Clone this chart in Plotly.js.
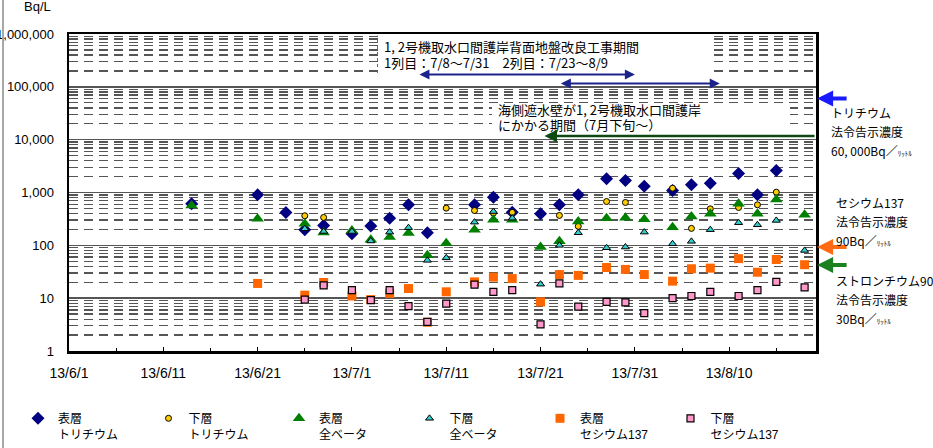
<!DOCTYPE html>
<html><head><meta charset="utf-8">
<script src="https://cdn.plot.ly/plotly-3.0.1.min.js"></script>
<style>html,body{margin:0;padding:0;background:#fff}#chart{width:933px;height:448px}</style>
</head><body><div id="chart"></div>
<script>
// ---- data ----
const dates = ['2013-06-14','2013-06-21','2013-06-24','2013-06-26','2013-06-28','2013-07-01','2013-07-03','2013-07-05','2013-07-07','2013-07-09','2013-07-11','2013-07-14','2013-07-16','2013-07-18','2013-07-21','2013-07-23','2013-07-25','2013-07-28','2013-07-30','2013-08-01','2013-08-04','2013-08-06','2013-08-08','2013-08-11','2013-08-13','2013-08-15','2013-08-18'];
const surfaceTritium = [612, 905, 420, 198, 238, 166, 231, 327, 585, 173, null, 585, 813, 424, 395, 585, 905, 1820, 1683, 1314, 1094, 1397, 1500, 2300, 905, 2600, null];
const lowerTritium   = [null, null, null, 363, 337, null, null, null, null, null, 506, 456, 408, 420, null, 368, 229, 675, 648, null, 1206, 209, 491, 520, 585, 1014, null];
const surfaceBeta    = [570, 320, null, 257, 174, 191, 128, 144, 171, 65, 110, 198, 305, 305, 93, 119, 283, 327, 332, 313, 221, 352, 396, 612, 396, 738, 378];
const lowerBeta      = [null, null, null, 206, 183, 183, 121, 178, 216, 52, 58, 275, 436, 327, 18.4, 100, 173, 90, 93, 178, 107, 119, 198, 268, 245, 296, 80];
const surfaceCs137   = [null, 19, null, 11.4, 19.8, 11, 9.4, 12.3, 15.2, 3.5, 13.2, 20.3, 25, 23.5, 8.5, 28, 27, 38, 35, 28, 21, 36, 37, 56, 31, 54, 43];
const lowerCs137     = [null, null, null, 9.4, 17.4, 14.2, 9.2, 14.2, 7.1, 3.57, 7.9, 18, 13.2, 14.2, 3.2, 19, 6.9, 8.5, 8.3, 5.2, 10, 11, 13.2, 11, 14.2, 20.3, 16];
const seriesNames = ['表層<br>トリチウム','下層<br>トリチウム','表層<br>全ベータ','下層<br>全ベータ','表層<br>セシウム137','下層<br>セシウム137'];
const yTickValues = [1, 10, 100, 1000, 10000, 100000, 1000000];
const yTickLabels = ['1', '10', '100', '1,000', '10,000', '100,000', '1,000,000'];
const xRange = ['2013-06-01 00:00', '2013-08-19 05:00'];
const works = {row1: ['2013-07-08', '2013-07-31'], row2: ['2013-07-23', '2013-08-09'], seaWall: '2013-07-21 10:00'};
const limits = {tritium: 60000, cs137: 90, sr90: 30};

// ---- layout helpers ----
const W = 933, H = 448, M = {l: 69, r: 117, t: 34, b: 97, autoexpand: false};
const PW = W - M.l - M.r, PH = H - M.t - M.b;
const px = x => (x - M.l) / PW;
const py = y => (H - M.b - y) / PH;
const LAT = 'Liberation Sans, Arial, "Noto Sans CJK JP", sans-serif';
const JP = '"Noto Sans CJK JP", sans-serif';

const minorY = [];
for (let e = 0; e < 6; e++) for (let k = 2; k <= 9; k++) minorY.push(k * Math.pow(10, e));

const styles = [
  {symbol: 'diamond', color: '#000080', size: 10, line: {width: 0}},
  {symbol: 'circle', color: '#ffcc00', size: 6, line: {width: 1, color: '#000'}},
  {symbol: 'triangle-up', color: '#008000', size: 11, line: {width: 0}},
  {symbol: 'triangle-up', color: '#33cccc', size: 7, line: {width: 1, color: '#000'}},
  {symbol: 'square', color: '#ff6600', size: 9, line: {width: 0}},
  {symbol: 'square', color: '#ff99cc', size: 7, line: {width: 1.2, color: '#000'}}
];
const values = [surfaceTritium, lowerTritium, surfaceBeta, lowerBeta, surfaceCs137, lowerCs137];
const traces = values.map((v, i) => ({
  type: 'scatter', mode: 'markers', x: dates, y: v, name: seriesNames[i],
  marker: styles[i], cliponaxis: false
}));

const note = (x, y, text, size) => ({xref: 'paper', yref: 'paper', x: px(x), y: py(y), xanchor: 'left', yanchor: 'middle',
  text: text, showarrow: false, font: {family: JP, size: size, color: '#000'}});
const whiteBox = (x0, y0, x1, y1) => ({xref: 'paper', yref: 'paper', x: px(x0), y: py(y0), xanchor: 'left', yanchor: 'top',
  text: ' ', showarrow: false, width: x1 - x0, height: y1 - y0, bgcolor: '#fff', borderpad: 0, borderwidth: 0});

const annotations = [
  {xref: 'paper', yref: 'paper', x: px(37), y: py(6), text: 'Bq/L', showarrow: false,
   font: {family: LAT, size: 13, color: '#000'}, xanchor: 'center', yanchor: 'middle'},
  whiteBox(378, 35.5, 712, 73),
  whiteBox(492, 103, 790, 130),
  note(382, 47, '1, 2号機取水口間護岸背面地盤改良工事期間', 13),
  note(382, 62, '1列目：7/8～7/31　2列目：7/23～8/9', 13),
  note(496, 110, '海側遮水壁が1, 2号機取水口間護岸', 13),
  note(496, 124.5, 'にかかる期間（7月下旬～）', 13),
  // construction period arrows
  {xref: 'x', yref: 'paper', x: works.row1[1], y: py(74.5), axref: 'x', ayref: 'pixel', ax: works.row1[0], ay: 0,
   text: '', showarrow: true, arrowhead: 2, arrowside: 'end+start', arrowsize: 1, arrowwidth: 2, arrowcolor: '#1c248c', standoff: 0, startstandoff: 0},
  {xref: 'x', yref: 'paper', x: works.row2[1], y: py(83.5), axref: 'x', ayref: 'pixel', ax: works.row2[0], ay: 0,
   text: '', showarrow: true, arrowhead: 2, arrowside: 'end+start', arrowsize: 1, arrowwidth: 2, arrowcolor: '#1c248c', standoff: 0, startstandoff: 0},
  {xref: 'x', yref: 'paper', x: works.seaWall, y: py(136), axref: 'x', ayref: 'pixel', ax: xRange[1], ay: 0,
   text: '', showarrow: true, arrowhead: 2, arrowsize: 1, arrowwidth: 2.5, arrowcolor: '#0d4a12', standoff: 0},
  // limit arrows on the right
  {xref: 'paper', yref: 'y', x: 1.0015, y: Math.log10(limits.tritium), axref: 'pixel', ayref: 'pixel', ax: 31, ay: 0,
   text: '', showarrow: true, arrowhead: 2, arrowsize: 0.8, arrowwidth: 4, arrowcolor: '#1a1aff', standoff: 0},
  {xref: 'paper', yref: 'paper', x: 1.0015, y: py(247), axref: 'pixel', ayref: 'pixel', ax: 31, ay: 0,
   text: '', showarrow: true, arrowhead: 2, arrowsize: 0.8, arrowwidth: 4, arrowcolor: '#ff6a13', standoff: 0},
  {xref: 'paper', yref: 'paper', x: 1.0015, y: py(265), axref: 'pixel', ayref: 'pixel', ax: 31, ay: 0,
   text: '', showarrow: true, arrowhead: 2, arrowsize: 0.8, arrowwidth: 4, arrowcolor: '#1a8020', standoff: 0}
];
const rightText = [
  [829, 112, 'トリチウム'], [829, 131, '法令告示濃度'], [829, 150, '60, 000Bq／<span style="font-size:7px">ﾘｯﾄﾙ</span>'],
  [834, 202, 'セシウム137'], [834, 221, '法令告示濃度'], [834, 240, '90Bq／<span style="font-size:7px">ﾘｯﾄﾙ</span>'],
  [834, 280, 'ストロンチウム90'], [834, 299, '法令告示濃度'], [834, 318, '30Bq／<span style="font-size:7px">ﾘｯﾄﾙ</span>']
];
rightText.forEach(t => annotations.push(note(t[0], t[1], t[2], 12)));

const shapes = [
  {type: 'line', xref: 'paper', yref: 'paper', x0: px(377.5), x1: px(377.5), y0: py(73), y1: py(35.5), layer: 'above',
   line: {width: 1, color: '#666', dash: 'dot'}},
  {type: 'line', xref: 'paper', yref: 'paper', x0: px(3), x1: px(3), y0: py(448), y1: py(0), layer: 'above',
   line: {width: 2, color: '#a8a8a8'}}
];

const layout = {
  width: W, height: H, margin: M, paper_bgcolor: '#fff', plot_bgcolor: '#fff', showlegend: true,
  xaxis: {type: 'date', range: xRange, tick0: '2013-06-01', dtick: 864000000, tickformat: '%y/%-m/%-d',
    ticks: 'inside', ticklen: 4, tickwidth: 1, tickcolor: '#000', showgrid: false, zeroline: false,
    showline: true, linewidth: 2.5, linecolor: '#000', mirror: true, ticklabelstandoff: 8,
    tickfont: {family: LAT, size: 14, color: '#000'},
    minor: {dtick: 432000000, tick0: '2013-06-01', ticks: 'inside', ticklen: 3, tickcolor: '#000', showgrid: false}},
  yaxis: {type: 'log', range: [0, 6], tickvals: yTickValues, ticktext: yTickLabels, ticks: '',
    showgrid: true, gridcolor: '#555', gridwidth: 1.5, zeroline: false,
    showline: true, linewidth: 2.5, linecolor: '#000', mirror: true, ticklabelstandoff: 10,
    tickfont: {family: LAT, size: 13, color: '#000'},
    minor: {tickvals: minorY, showgrid: true, gridcolor: '#555', gridwidth: 1.3, griddash: '9px,6px', ticks: ''}},
  legend: {orientation: 'h', x: px(18), y: py(404), xanchor: 'left', yanchor: 'top', valign: 'top',
    entrywidth: 85.5, entrywidthmode: 'pixels', font: {family: LAT, size: 12, color: '#000'}, bgcolor: 'rgba(0,0,0,0)'},
  annotations: annotations, shapes: shapes
};
Plotly.newPlot('chart', traces, layout, {staticPlot: true, displayModeBar: false});
</script></body></html>
